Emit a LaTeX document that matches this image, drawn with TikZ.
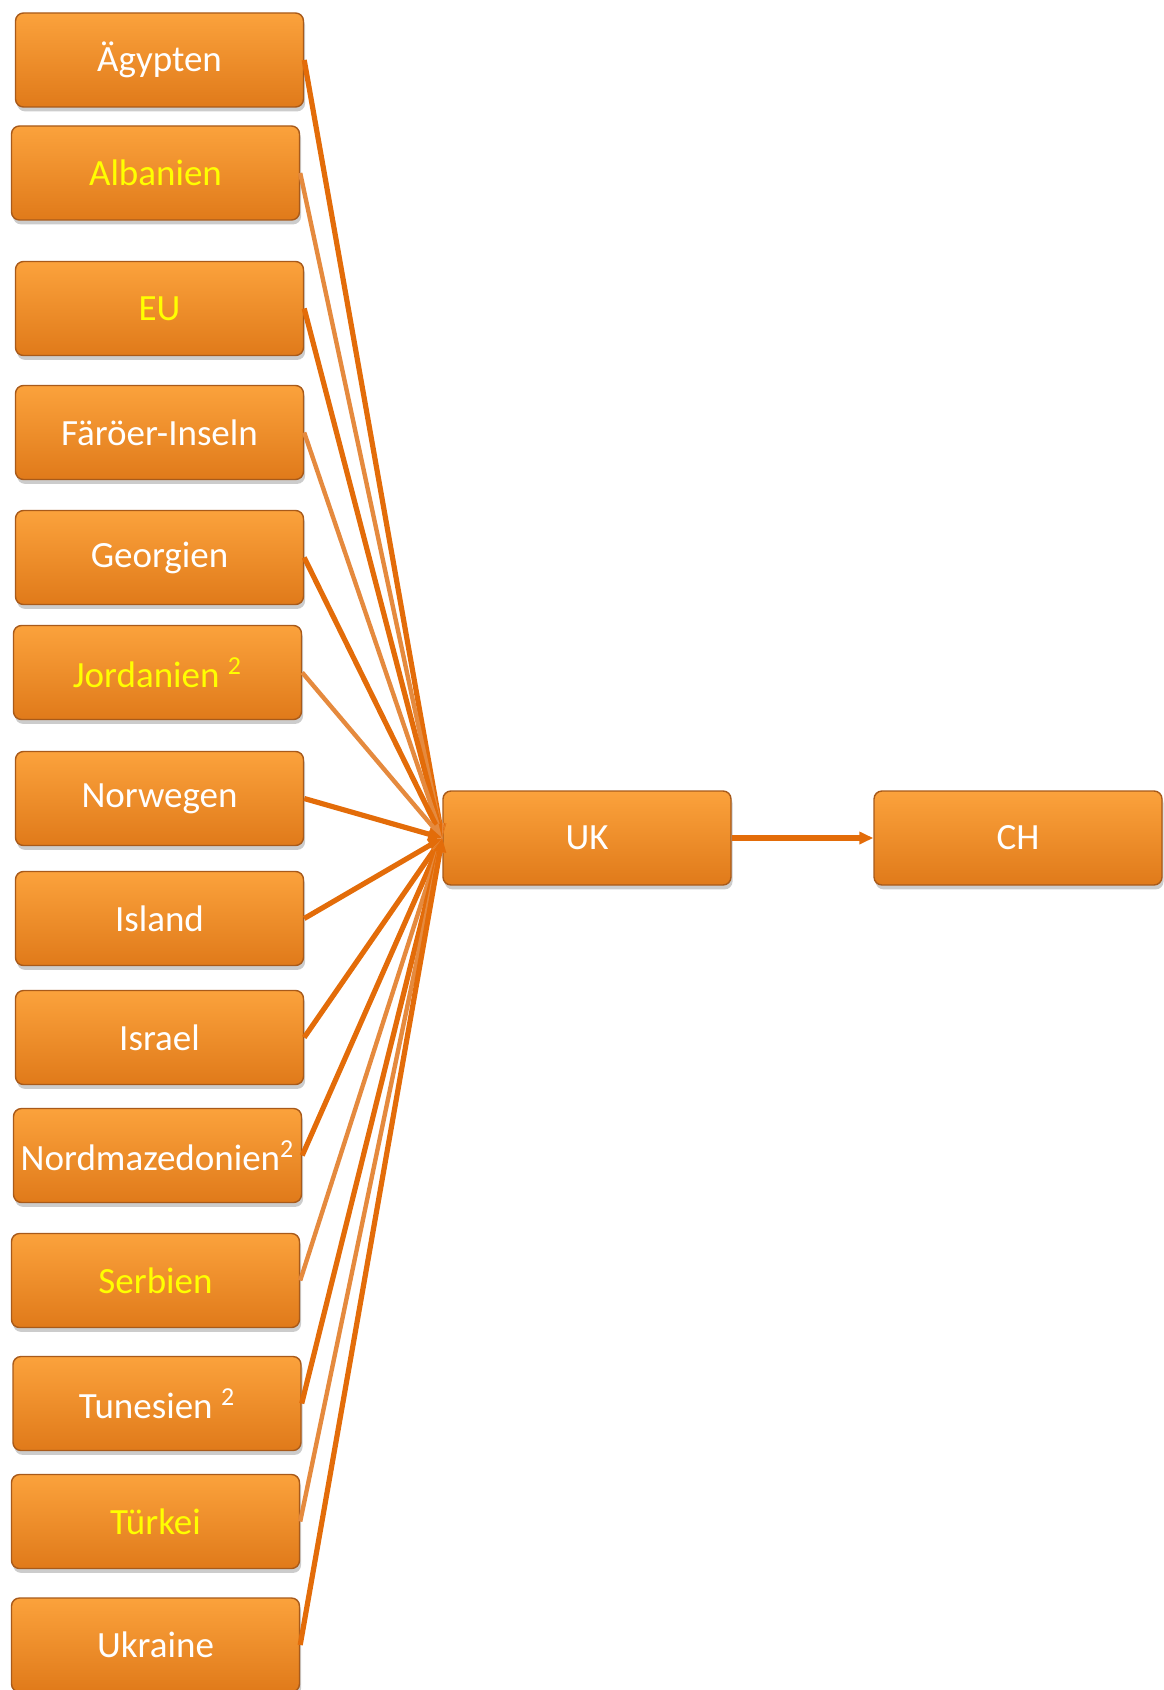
\documentclass[tikz,border=0pt]{standalone}
\usepackage{fontspec}
\setmainfont{Carlito}
\usetikzlibrary{arrows.meta,shadows}
\definecolor{boxtop}{HTML}{FBA23C}
\definecolor{boxbot}{HTML}{E07A1A}
\definecolor{boxedge}{HTML}{A85A1A}
\definecolor{linedark}{HTML}{E36C09}
\definecolor{linelight}{HTML}{E58A3E}
\definecolor{txtyellow}{HTML}{FFFF00}
\begin{document}
\begin{tikzpicture}[x=0.5pt, y=-0.5pt, box/.style = {draw=boxedge, line width=0.7pt, rounded corners=4pt, top color=boxtop, bottom color=boxbot, minimum width=144pt, minimum height=47pt, inner xsep=1pt, text=white, font=\fontsize{18.5}{22}\selectfont, drop shadow={shadow xshift=0.8pt, shadow yshift=-2.2pt, opacity=0.4}}, hl/.style = {text=txtyellow}, dk/.style = {draw=linedark, line width=2.6pt, -{Triangle[length=7pt, width=6pt]}}, lt/.style = {draw=linelight, line width=2.2pt, -{Triangle[length=7pt, width=6pt]}}]
			\useasboundingbox (0,0) rectangle (1163,1690);
			\node[box] (1) at (159.5,60) {Ägypten};
			\node[box, hl] (2) at (155.5,173) {Albanien};
			\node[box, hl] (3) at (159.5,308.5) {EU};
			\node[box] (4) at (159.5,432.5) {Färöer-Inseln};
			\node[box] (5) at (159.5,557.5) {Georgien};
			\node[box, hl] (6) at (157.5,672.5) {Jordanien \textsuperscript{2}};
			\node[box] (7) at (159.5,798.5) {Norwegen};
			\node[box] (8) at (159.5,918.5) {Island};
			\node[box] (9) at (159.5,1037.5) {Israel};
			\node[box] (10) at (157.5,1155.5) {Nordmazedonien\textsuperscript{2}};
			\node[box, hl] (11) at (155.5,1280.5) {Serbien};
			\node[box] (12) at (157,1403.5) {Tunesien \textsuperscript{2}};
			\node[box, hl] (13) at (155.5,1521.5) {Türkei};
			\node[box] (14) at (155.5,1645) {Ukraine};
			
			\node[box] (uk) at (587,838) {UK};
			\node[box] (ch) at (1018,838) {CH};
			
			
			\draw[dk] (1.east) -- (uk.west);
			\draw[lt] (2.east) -- (uk.west);
			\draw[dk] (3.east) -- (uk.west);
			\draw[lt] (4.east) -- (uk.west);
			\draw[dk] (5.east) -- (uk.west);
			\draw[lt] (6.east) -- (uk.west);
			\draw[dk] (7.east) -- (uk.west);
			\draw[dk] (8.east) -- (uk.west);
			\draw[dk] (9.east) -- (uk.west);
			\draw[dk] (10.east) -- (uk.west);
			\draw[lt] (11.east) -- (uk.west);
			\draw[dk] (12.east) -- (uk.west);
			\draw[lt] (13.east) -- (uk.west);
			\draw[dk] (14.east) -- (uk.west);
			\draw[dk] (uk) -- (ch);
			
		\end{tikzpicture}
\end{document}
